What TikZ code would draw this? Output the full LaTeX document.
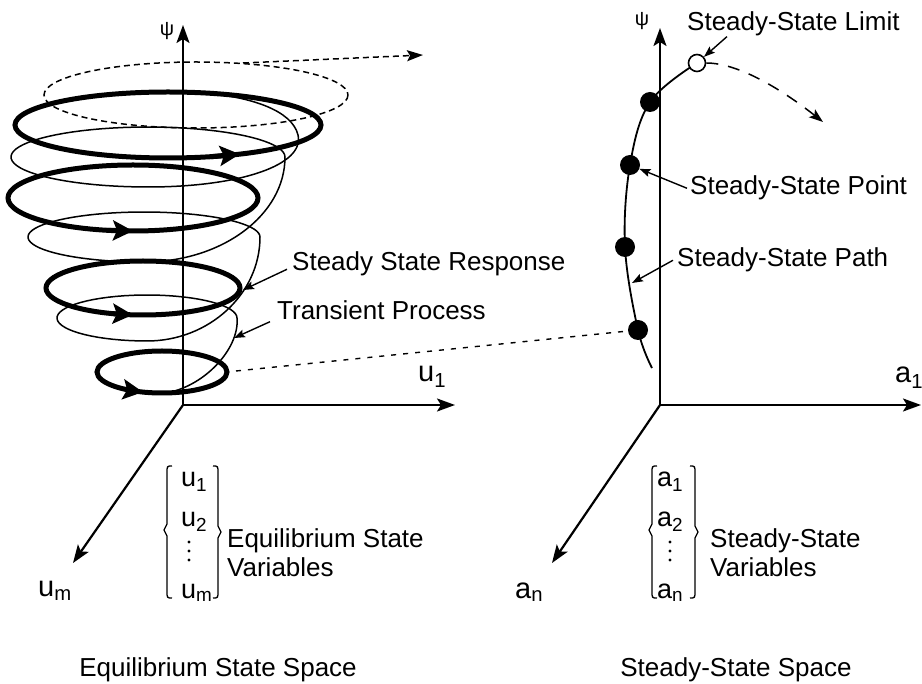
\documentclass[tikz,border=0pt]{standalone}
\usepackage{fontspec}
\setmainfont{Liberation Sans}
\usetikzlibrary{calc, arrows.meta}
\newcommand{\lblfont}{\fontsize{26}{29}\selectfont}
\newcommand{\axfont}{\fontsize{29}{32}\selectfont}
\newcommand{\entfont}{\fontsize{27}{30}\selectfont}
\newcommand{\psifont}{\fontsize{20}{22}\selectfont}

\begin{document}
\begin{tikzpicture}[x=1pt, y=-1pt,
  axis/.style={line width=2.2pt, -{Stealth[length=18pt, width=13pt, inset=4pt]}},
  thinspiral/.style={line width=1.5pt},
  thickloop/.style={line width=5pt},
  loophead/.style={line width=5pt, -{Stealth[length=20pt, width=20pt, inset=4pt]}},
  divergent/.style={line width=1.5pt, dash pattern=on 6pt off 4pt},
  lblarrow/.style={line width=1.4pt, -{Stealth[length=11pt, width=8pt, inset=2pt]}},
  lbl/.style={font=\lblfont, inner sep=0pt},
  axlbl/.style={font=\axfont, inner sep=0pt},
  vecent/.style={font=\entfont, inner sep=0pt},
  vecbrace/.style={line width=1.3pt},
  ssdot/.style={circle, fill=black, minimum size=20pt, inner sep=0pt},
  sspath/.style={line width=1.8pt}]

  \useasboundingbox (0,0) rectangle (922,684);

  % ---- equilibrium state space ----
  \coordinate (o1) at (183,405);
  \coordinate (psi1) at (183,25);
  \coordinate (u1end) at (455,405);
  \coordinate (umend) at (73,563);

  % transient process
  \coordinate (sp0) at (157,394);
  \draw[thinspiral] (sp0) .. controls (200,392) and (240,350) .. (237,318)
    -- plot[domain=0:-270, samples=50] ({147+90*cos(\x)}, {318+23*sin(\x)})
    .. controls (209,341) and (260,294) .. (260,237)
    -- plot[domain=0:-270, samples=60] ({144+116*cos(\x)}, {237+25*sin(\x)})
    .. controls (222,262) and (285,215) .. (285,157)
    -- plot[domain=0:-270, samples=60] ({148+137*cos(\x)}, {157+30*sin(\x)})
    .. controls (240,187) and (305,165) .. (298,135)
    .. controls (292,110) and (250,97) .. (205,93);

  % steady state response loops
  \foreach \cx/\cy/\rx/\ry/\a in {168/125/153/33/62, 133/198/125/33/90, 143/288/97/27/96, 162/372/65/21/107} {
    \draw[thickloop] (\cx,\cy) ellipse[x radius=\rx, y radius=\ry];
    \draw[loophead] ({\cx+\rx*cos(\a+12)}, {\cy+\ry*sin(\a+12)}) -- ({\cx+\rx*cos(\a)}, {\cy+\ry*sin(\a)});
  }

  % beyond the limit
  \draw[divergent] (196,95) ellipse[x radius=152, y radius=33];
  \coordinate (dtop) at (243,63);
  \coordinate (escape) at (423,55);
  \draw[divergent, -{Stealth[length=16pt, width=11pt, inset=3pt]}] (dtop) -- (escape);

  \draw[axis] (o1) -- (psi1);
  \draw[axis] (o1) -- (u1end);
  \draw[axis] (o1) -- (umend);
  \node[font=\psifont] (psil) at (167,31) {ψ};
  \node[axlbl, anchor=base west] (u1l) at (418,382) {u\textsubscript{1}};
  \node[axlbl, anchor=base west] (uml) at (38,597) {u\textsubscript{m}};

  \node[lbl, anchor=base west] (ssr) at (292,271) {Steady State Response};
  \node[lbl, anchor=base west] (tp) at (277,320) {Transient Process};
  \coordinate (ssrtip) at (243,290);
  \coordinate (tptip) at (234,338);
  \draw[lblarrow] ($(ssr.west)+(-5,5)$) -- (ssrtip);
  \draw[lblarrow] ($(tp.west)+(-7,11)$) -- (tptip);

  % state vector
  \node[vecent, anchor=base west] (u1v) at (181,487) {u\textsubscript{1}};
  \node[vecent, anchor=base west] (u2v) at (181,527) {u\textsubscript{2}};
  \foreach \y in {542,551,560}
    \fill (189,\y) circle[radius=1.7];
  \node[vecent, anchor=base west] (umv) at (181,598) {u\textsubscript{m}};
  \draw[vecbrace] (172,466) .. controls (167,466) .. (167,473) -- (167,524) -- (164,530) -- (167,536)
    -- (167,591) .. controls (167,598) .. (172,598);
  \draw[vecbrace] (213,466) .. controls (218,466) .. (218,473) -- (218,526) -- (221,532) -- (218,538)
    -- (218,591) .. controls (218,598) .. (213,598);
  \node[lbl, anchor=west, align=left] (eqvar) at (227,553) {Equilibrium State\\Variables};
  \node[lbl, anchor=base] (eqspace) at (218,677) {Equilibrium State Space};

  % ---- steady-state space ----
  \coordinate (o2) at (660,405);
  \coordinate (psi2) at (660,28);
  \coordinate (a1end) at (921,405);
  \coordinate (anend) at (552,563);
  \draw[axis] (o2) -- (psi2);
  \draw[axis] (o2) -- (a1end);
  \draw[axis] (o2) -- (anend);
  \node[font=\psifont] (psir) at (642,21) {ψ};
  \node[axlbl, anchor=base west] (a1l) at (895,383) {a\textsubscript{1}};
  \node[axlbl, anchor=base west] (anl) at (515,598) {a\textsubscript{n}};

  % steady-state path
  \coordinate (p0) at (652,368);
  \coordinate (p1) at (638,330);
  \coordinate (p2) at (625,247);
  \coordinate (p3) at (630,165);
  \coordinate (p4) at (650,102);
  \coordinate (p5) at (697,63);
  \draw[sspath] plot[smooth, tension=0.6] coordinates {(p0) (p1) (p2) (p3) (p4) (p5)};
  \foreach \i/\p in {4/p1, 3/p2, 2/p3, 1/p4}
    \node[ssdot] (d\i) at (\p) {};
  \node[circle, draw, fill=white, line width=1.6pt, minimum size=17pt, inner sep=0pt] (lim) at (p5) {};

  \coordinate (limesc) at (823,122);
  \draw[line width=1.5pt, dash pattern=on 12pt off 10pt, -{Stealth[length=14pt, width=10pt, inset=3pt]}]
    (lim.east) .. controls (740,63) and (785,92) .. (limesc);

  \coordinate (t4r) at (236,371);
  \draw[line width=1.4pt, dash pattern=on 5pt off 7pt] (t4r) -- (d4);

  \node[lbl, anchor=base west] (ssl) at (687,31) {Steady-State Limit};
  \node[lbl, anchor=base west] (ssp) at (690,195) {Steady-State Point};
  \node[lbl, anchor=base west] (sspa) at (677,267) {Steady-State Path};
  \coordinate (sspatip) at (632,283);
  \draw[lblarrow] ($(ssl.south west)+(40,0)$) -- (lim);
  \draw[lblarrow] ($(ssp.west)+(-3,0)$) -- (d2);
  \draw[lblarrow] ($(sspa.west)+(-4,0)$) -- (sspatip);

  % state vector
  \node[vecent, anchor=base west] (a1v) at (657,487) {a\textsubscript{1}};
  \node[vecent, anchor=base west] (a2v) at (657,527) {a\textsubscript{2}};
  \foreach \y in {542,551,560}
    \fill (670,\y) circle[radius=1.7];
  \node[vecent, anchor=base west] (anv) at (657,598) {a\textsubscript{n}};
  \draw[vecbrace] (657,466) .. controls (652,466) .. (652,473) -- (652,524) -- (649,530) -- (652,536)
    -- (652,591) .. controls (652,598) .. (657,598);
  \draw[vecbrace] (690,466) .. controls (695,466) .. (695,473) -- (695,526) -- (698,532) -- (695,538)
    -- (695,591) .. controls (695,598) .. (690,598);
  \node[lbl, anchor=west, align=left] (ssvar) at (710,553) {Steady-State\\Variables};
  \node[lbl, anchor=base] (ssspace) at (736,676) {Steady-State Space};
\end{tikzpicture}
\end{document}
